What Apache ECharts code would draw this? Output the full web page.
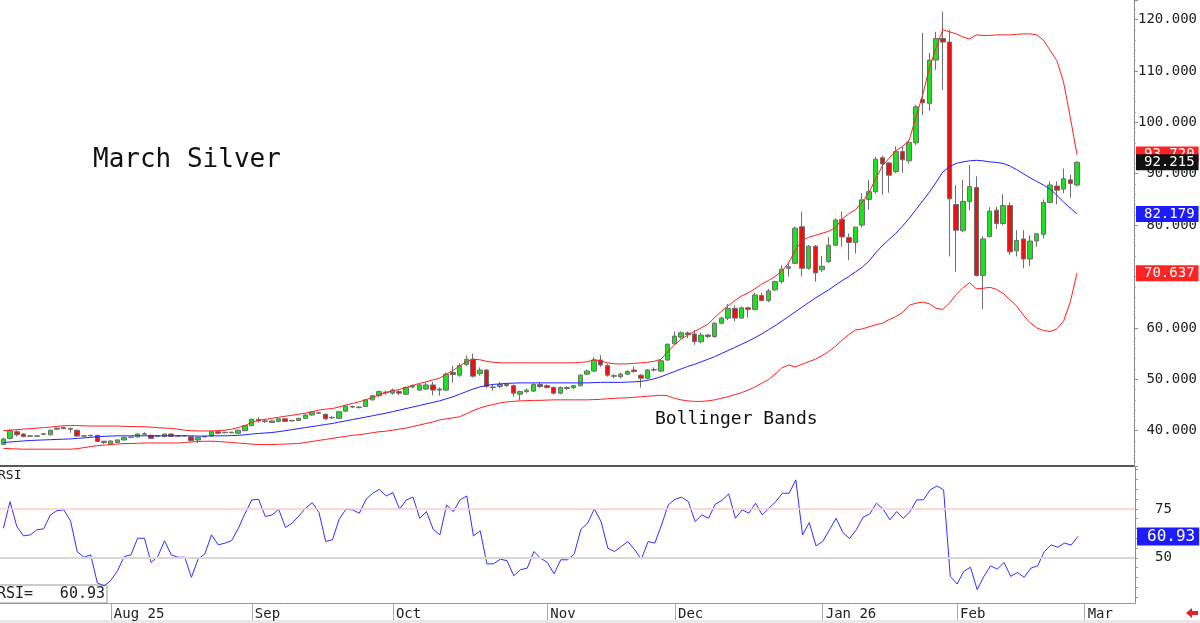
<!DOCTYPE html>
<html>
<head>
<meta charset="utf-8">
<title>March Silver</title>
<script src="https://cdn.jsdelivr.net/npm/echarts@6/dist/echarts.min.js"></script>
<style>
  html, body { margin: 0; padding: 0; background: #fff; }
  #chart { width: 1200px; height: 623px; }
</style>
</head>
<body>
<div id="chart"></div>
<script>
"use strict";

// trading days from 2025-07-10, plus a few empty March slots on the right
var firstDay = [2025, 6, 10];
var padSlots = 8;
var holidays = ['2025-09-01', '2025-11-27', '2025-12-25', '2026-01-01', '2026-01-19', '2026-02-16'];
var monthLabels = {
  '2025-08': 'Aug 25', '2025-09': 'Sep', '2025-10': 'Oct', '2025-11': 'Nov',
  '2025-12': 'Dec', '2026-01': 'Jan 26', '2026-02': 'Feb', '2026-03': 'Mar'
};

// Jul .. Feb, one value per session
var opens = [
  37.35, 38.5, 39.8, 39.35, 38.9, 38.9, 39.4, 39.2, 40.3, 40.6, 40.45, 40.1, 39.0, 39.0, 39.1, 37.95,
  37.4, 37.7, 38.2, 38.7, 38.8, 39.4, 39.1, 38.9, 38.85, 39.35, 38.95, 39.0, 38.8, 38.2, 38.8, 38.95, 39.8, 39.6, 39.7, 39.5, 40.0,
  40.97, 42.2, 41.9, 41.6, 41.8, 42.3, 41.9, 42.0, 42.4, 43.05, 43.5, 43.2, 42.5, 42.4, 43.8, 44.7, 44.6, 44.7, 46.0, 46.8, 47.5,
  47.3, 47.6, 47.1, 48.5, 47.9, 48.1, 48.9, 48.1, 47.9, 51.3, 50.8, 52.9, 53.9, 51.1, 51.8, 48.4, 48.6, 49.0, 48.75, 47.1, 47.6, 47.7, 49.0,
  48.75, 48.4, 47.3, 48.4, 48.4, 48.75, 51.0, 51.6, 53.75, 52.65, 50.7, 50.5, 51.0, 51.8, 50.8, 50.2, 51.8, 51.6, 53.75,
  56.9, 58.2, 59.0, 58.8, 57.3, 58.6, 58.3, 60.9, 61.9, 63.8, 61.9, 63.9, 63.6, 66.3, 65.3, 67.4, 69.0, 71.6, 72.56, 79.7, 71.6, 75.9,
  71.3, 72.9, 76.1, 81.1, 77.6, 76.6, 80.0, 85.0, 86.5, 93.1, 92.1, 90.4, 94.3, 92.5, 96.0, 104.4, 103.7, 112.1, 116.3, 115.6,
  84.0, 78.9, 84.6, 87.3, 70.2, 77.75, 82.9, 80.3, 83.8, 75.0, 77.3, 73.4, 76.9, 78.2, 84.4, 87.6, 87.0, 88.8, 87.8
];
var closes = [
  38.4, 40.0, 39.2, 38.85, 39.0, 39.0, 39.3, 40.1, 40.5, 40.4, 40.3, 38.95, 38.95, 39.1, 37.9, 37.7,
  38.0, 38.2, 38.7, 38.75, 39.35, 39.3, 38.5, 39.0, 39.35, 38.9, 39.0, 39.05, 38.05, 38.7, 38.9, 39.8, 39.5, 39.7, 39.6, 40.1, 41.0,
  42.2, 41.9, 41.8, 41.9, 42.3, 41.8, 42.0, 42.4, 43.05, 43.6, 43.4, 42.3, 42.6, 43.7, 44.8, 44.6, 44.5, 46.0, 46.8, 47.6, 47.4,
  47.9, 47.3, 48.4, 48.8, 48.9, 48.9, 47.9, 47.9, 51.0, 50.9, 52.65, 53.9, 50.6, 51.8, 48.6, 48.5, 49.0, 48.8, 47.3, 47.6, 47.9, 49.0, 48.6,
  48.4, 47.3, 48.4, 48.2, 48.75, 50.8, 51.6, 53.75, 52.8, 50.8, 50.6, 51.0, 51.5, 51.5, 50.2, 51.8, 51.9, 53.6, 56.8,
  58.4, 59.05, 58.7, 57.3, 58.6, 58.3, 60.9, 61.9, 63.8, 61.9, 63.9, 63.6, 66.4, 65.3, 67.2, 69.0, 71.4, 71.9, 79.4, 71.6, 75.9, 70.7,
  72.0, 76.1, 81.0, 77.7, 76.6, 79.6, 84.9, 86.5, 92.8, 91.9, 89.7, 94.3, 92.7, 96.1, 103.0, 103.8, 112.1, 116.3, 115.6, 85.1,
  79.0, 84.6, 87.5, 70.2, 77.3, 82.7, 80.3, 83.8, 74.8, 77.0, 73.4, 76.9, 78.3, 84.4, 87.8, 86.8, 89.0, 88.1, 92.215
];
var lows = [
  37.2, 38.3, 38.9, 38.7, 38.8, 38.85, 39.2, 39.1, 40.2, 40.3, 39.6, 38.8, 38.85, 38.9, 37.8, 37.4,
  37.3, 37.6, 38.1, 38.6, 38.7, 39.2, 38.4, 38.8, 38.75, 38.8, 38.85, 38.9, 37.95, 37.6, 38.7, 38.85, 39.4, 39.5, 39.5, 39.4, 39.9,
  40.9, 41.6, 41.5, 41.5, 41.7, 41.7, 41.8, 41.9, 42.3, 42.9, 43.2, 42.1, 42.3, 42.3, 43.7, 44.4, 44.3, 44.6, 45.9, 46.5, 47.0,
  47.0, 46.9, 46.9, 48.3, 47.7, 47.9, 46.9, 46.8, 47.7, 49.3, 50.5, 52.6, 50.3, 50.7, 48.3, 47.8, 48.3, 48.5, 46.6, 45.9, 47.3, 47.5, 48.3,
  48.2, 47.0, 47.1, 47.9, 48.1, 48.6, 50.8, 51.4, 52.4, 50.5, 50.2, 50.2, 50.8, 51.3, 48.4, 50.0, 51.5, 51.4, 53.6,
  56.7, 57.9, 58.0, 56.7, 57.0, 58.0, 58.1, 60.7, 61.5, 61.3, 61.8, 62.0, 63.4, 65.2, 65.0, 67.2, 68.6, 70.0, 72.4, 70.0, 71.3, 69.0,
  70.9, 72.6, 75.9, 75.8, 73.2, 74.5, 79.5, 83.0, 86.1, 85.9, 86.3, 90.1, 90.2, 92.0, 95.6, 101.4, 102.2, 110.2, 106.3, 73.9,
  70.9, 78.7, 82.9, 70.0, 63.7, 77.6, 79.3, 80.0, 74.2, 73.9, 71.6, 72.0, 75.8, 77.4, 84.2, 84.0, 86.2, 85.3, 87.5
];
var highs = [
  38.6, 40.3, 40.1, 39.5, 39.1, 39.1, 39.5, 40.2, 40.6, 40.8, 40.6, 40.2, 39.1, 39.2, 39.2, 38.0,
  38.1, 38.3, 38.8, 38.85, 39.45, 39.7, 39.2, 39.1, 39.45, 39.5, 39.1, 39.15, 38.9, 38.8, 39.0, 39.9, 40.0, 39.8, 39.8, 40.2, 41.1,
  42.4, 42.6, 42.1, 42.0, 42.4, 42.4, 42.1, 42.5, 43.2, 43.7, 43.7, 43.3, 42.8, 43.8, 44.9, 44.9, 44.8, 46.1, 47.0, 47.8, 47.8,
  48.2, 47.9, 48.6, 49.0, 49.1, 49.3, 49.5, 48.4, 51.3, 52.6, 53.1, 54.6, 55.0, 52.3, 52.0, 49.0, 49.5, 49.3, 49.0, 47.8, 48.2, 49.3, 49.4,
  49.0, 48.6, 48.6, 48.6, 48.9, 51.0, 51.9, 54.3, 54.7, 53.0, 51.0, 51.3, 51.8, 52.5, 51.0, 52.0, 52.3, 53.9, 57.0,
  59.3, 59.3, 59.3, 59.6, 59.0, 58.8, 61.1, 62.2, 64.6, 64.4, 64.2, 64.1, 66.8, 66.8, 67.6, 69.2, 72.2, 72.6, 79.7, 82.6, 76.1, 76.1,
  74.0, 77.7, 81.3, 82.6, 78.4, 79.7, 86.2, 88.8, 93.3, 93.5, 92.3, 95.3, 95.3, 96.6, 103.4, 117.4, 113.5, 117.6, 121.5, 118.0,
  87.8, 88.8, 91.7, 89.5, 77.8, 83.5, 83.6, 86.0, 84.4, 79.0, 79.0, 78.0, 78.4, 85.0, 88.5, 88.5, 91.0, 89.8, 92.4
];

// Bollinger bands
var upperBand = [
  40.0, 40.1, 40.2, 40.3, 40.4, 40.5, 40.6, 40.7, 40.85, 40.95, 41.0, 41.0, 40.95, 40.9, 40.9, 40.9,
  40.9, 40.9, 40.85, 40.8, 40.8, 40.75, 40.7, 40.6, 40.5, 40.45, 40.3, 40.1, 40.0, 39.95, 39.95, 39.95, 40.0, 40.1, 40.3, 40.6, 41.0,
  41.6, 42.0, 42.2, 42.4, 42.6, 42.8, 43.0, 43.2, 43.4, 43.7, 44.0, 44.2, 44.3, 44.6, 45.0, 45.3, 45.6, 46.0, 46.5, 47.0, 47.4,
  47.8, 48.0, 48.4, 48.8, 49.2, 49.5, 49.9, 50.2, 51.0, 51.7, 52.6, 53.4, 53.9, 53.8, 53.5, 53.3, 53.2, 53.2, 53.2, 53.2, 53.2, 53.2, 53.2,
  53.2, 53.2, 53.2, 53.2, 53.2, 53.3, 53.4, 53.8, 53.6, 53.2, 53.0, 53.0, 53.0, 53.1, 53.2, 53.3, 53.5, 53.9, 55.3,
  56.7, 57.8, 58.6, 59.3, 60.0, 60.7, 62.0, 63.2, 64.3, 65.3, 66.2, 66.8, 67.6, 68.5, 69.2, 70.0, 71.0, 72.6, 75.0, 77.0, 77.6, 78.0,
  78.4, 78.8, 79.5, 81.2, 82.2, 83.0, 84.5, 86.3, 89.0, 91.5, 93.0, 94.5, 95.3, 96.5, 101.0, 105.3, 110.5, 114.5, 118.0, 117.6,
  117.2, 116.6, 116.2, 117.0, 116.9, 116.9, 117.0, 117.0, 117.0, 117.1, 117.2, 117.2, 117.0, 116.0, 114.0, 112.0, 107.8, 101.0, 93.72
];
var middleBand = [
  37.7, 37.8, 37.9, 38.0, 38.1, 38.15, 38.2, 38.25, 38.3, 38.35, 38.4, 38.5, 38.6, 38.7, 38.85, 38.9,
  38.95, 39.0, 39.0, 39.0, 39.0, 39.0, 39.0, 39.0, 39.0, 39.0, 39.0, 39.0, 39.0, 38.95, 38.95, 39.0, 39.0, 39.0, 39.05, 39.1, 39.2,
  39.35, 39.45, 39.55, 39.65, 39.8, 40.0, 40.2, 40.4, 40.6, 40.8, 41.0, 41.2, 41.4, 41.65, 41.9, 42.15, 42.4, 42.65, 42.9, 43.15, 43.4,
  43.7, 44.0, 44.3, 44.6, 44.9, 45.2, 45.5, 45.8, 46.2, 46.6, 47.1, 47.6, 48.1, 48.5, 48.8, 49.0, 49.1, 49.2, 49.25, 49.3, 49.3, 49.3, 49.3,
  49.3, 49.3, 49.3, 49.3, 49.3, 49.3, 49.3, 49.35, 49.4, 49.4, 49.4, 49.4, 49.45, 49.5, 49.6, 49.8, 50.1, 50.5, 51.0,
  51.5, 52.0, 52.5, 52.9, 53.4, 53.9, 54.4, 55.0, 55.6, 56.2, 56.8, 57.4, 58.1, 58.8, 59.6, 60.4, 61.3, 62.2, 63.1, 64.0, 64.9, 65.8,
  66.6, 67.4, 68.3, 69.2, 70.0, 70.9, 71.8, 73.0, 74.6, 76.0, 77.2, 78.4, 79.8, 81.3, 83.0, 84.7, 86.4, 88.3, 90.3, 91.4,
  92.0, 92.3, 92.5, 92.6, 92.5, 92.3, 92.2, 92.0, 91.5, 90.8, 90.0, 89.2, 88.5, 87.8, 87.0, 85.8, 84.5, 83.3, 82.179
];
var lowerBand = [
  36.55, 36.5, 36.45, 36.4, 36.4, 36.4, 36.4, 36.4, 36.4, 36.4, 36.4, 36.5, 36.7, 36.9, 37.1, 37.2,
  37.3, 37.4, 37.5, 37.5, 37.55, 37.6, 37.6, 37.6, 37.6, 37.6, 37.6, 37.7, 37.8, 37.9, 37.95, 37.95, 37.9, 37.8, 37.7, 37.6, 37.5,
  37.4, 37.3, 37.3, 37.3, 37.35, 37.4, 37.45, 37.5, 37.7, 37.9, 38.1, 38.3, 38.5, 38.7, 38.9, 39.1, 39.2, 39.4, 39.6, 39.8, 39.9,
  40.1, 40.3, 40.5, 40.8, 41.1, 41.4, 41.7, 42.1, 42.3, 42.5, 42.7, 43.3, 43.9, 44.4, 44.8, 45.1, 45.4, 45.6, 45.7, 45.8, 45.85, 45.9, 45.9,
  45.95, 46.0, 46.0, 46.0, 46.0, 46.0, 46.0, 46.05, 46.1, 46.2, 46.3, 46.35, 46.4, 46.5, 46.6, 46.7, 46.8, 46.9, 46.8,
  46.3, 46.0, 45.8, 45.7, 45.7, 45.8, 46.0, 46.3, 46.6, 47.0, 47.4, 47.9, 48.5, 49.2, 49.9, 51.0, 52.2, 52.8, 52.4, 52.9, 53.4, 53.9,
  54.6, 55.4, 56.4, 57.6, 58.7, 59.6, 59.8, 60.2, 60.6, 60.9, 61.6, 62.2, 63.0, 64.4, 64.8, 65.0, 64.7, 63.8, 63.6, 64.8,
  66.5, 67.8, 68.8, 67.6, 67.7, 67.9, 67.5, 66.7, 65.5, 64.3, 62.5, 61.0, 60.0, 59.5, 59.3, 59.8, 61.3, 65.0, 70.637
];
var rsi = [
  65.1, 78.7, 66.0, 61.2, 61.7, 64.3, 64.8, 71.9, 74.1, 74.5, 68.9, 53.2, 50.3, 51.5, 37.1, 35.7,
  38.4, 43.4, 50.7, 51.5, 60.0, 60.0, 47.6, 50.7, 58.7, 51.5, 50.3, 50.3, 40.0, 49.3, 52.0, 61.7, 56.6, 57.5, 58.8, 65.1, 72.8,
  79.6, 79.9, 71.1, 71.9, 74.8, 65.5, 67.7, 71.4, 75.3, 78.2, 73.1, 58.3, 59.2, 69.7, 74.8, 74.5, 72.8, 79.9, 83.0, 85.0, 81.6,
  83.3, 74.8, 79.6, 81.0, 70.2, 73.6, 64.6, 61.7, 77.0, 73.6, 79.6, 81.6, 61.2, 63.8, 46.9, 46.9, 49.3, 48.5, 40.8, 43.9, 44.7, 53.2, 49.8,
  47.6, 41.8, 49.0, 49.0, 51.9, 64.6, 67.7, 75.0, 68.5, 54.9, 53.2, 55.8, 58.3, 54.1, 49.3, 58.3, 57.5, 66.8, 77.0,
  79.9, 81.0, 78.7, 68.5, 71.9, 70.2, 77.4, 79.3, 82.7, 70.2, 74.5, 72.8, 77.9, 71.9, 75.3, 78.7, 83.0, 83.0, 89.8, 61.7, 68.0, 56.1,
  58.3, 64.3, 70.2, 62.9, 59.9, 64.3, 70.7, 72.4, 77.9, 74.8, 69.4, 73.6, 70.2, 73.6, 79.6, 79.6, 84.7, 86.7, 84.7, 40.5,
  36.6, 43.0, 45.2, 33.7, 40.5, 45.9, 44.2, 47.6, 40.5, 42.5, 40.0, 44.7, 45.9, 53.2, 56.6, 55.4, 57.5, 56.5, 60.93
];

var mono = "'DejaVu Sans Mono', monospace";

function buildDays(count) {
  var out = [];
  var d = new Date(Date.UTC(firstDay[0], firstDay[1], firstDay[2]));
  while (out.length < count) {
    var wd = d.getUTCDay(), s = d.toISOString().slice(0, 10);
    if (wd !== 0 && wd !== 6 && holidays.indexOf(s) < 0) out.push(s);
    d.setUTCDate(d.getUTCDate() + 1);
  }
  return out;
}

var days = buildDays(closes.length + padSlots);
var monthStart = days.map(function (d, i) {
  return i > 0 && d.slice(0, 7) !== days[i - 1].slice(0, 7) && !!monthLabels[d.slice(0, 7)];
});
function isMonthStart(index) { return monthStart[index]; }

var candles = opens.map(function (o, i) {
  return [o, closes[i], lows[i], highs[i]];
});

function last(arr) { return arr[arr.length - 1]; }

// value tag on the right axis (invisible line, visible label)
function badge(value, bg, digits, size, padLeft) {
  return {
    yAxis: value,
    lineStyle: { color: 'rgba(255,255,255,0)', width: 1, opacity: 1 },
    label: {
      show: true,
      position: 'end',
      distance: 2,
      formatter: value.toFixed(digits),
      color: '#fff',
      opacity: 1,
      backgroundColor: bg,
      fontFamily: mono,
      fontSize: size,
      lineHeight: size + 1,
      padding: [1, 4, 0, padLeft]
    }
  };
}

function bandSeries(data, color, tagColor) {
  return {
    type: 'line',
    xAxisIndex: 0,
    yAxisIndex: 0,
    data: data,
    symbol: 'none',
    lineStyle: { color: color, width: 1 },
    markLine: { silent: true, symbol: 'none', animation: false, data: [badge(last(data), tagColor, 3, 14, 8)] }
  };
}

var chart = echarts.init(document.getElementById('chart'));

chart.setOption({
  animation: false,
  backgroundColor: '#fff',
  grid: [
    { left: -1, right: 65, top: 0, height: 466 },
    { left: -1, right: 65, top: 467, height: 136 }
  ],
  xAxis: [
    { type: 'category', gridIndex: 0, data: days, show: false },
    {
      type: 'category',
      gridIndex: 1,
      data: days,
      axisLine: { lineStyle: { color: '#999', width: 1 } },
      axisTick: {
        show: true,
        alignWithLabel: true,
        interval: isMonthStart,
        length: 17,
        lineStyle: { color: '#aaa' }
      },
      axisLabel: {
        interval: isMonthStart,
        formatter: function (value) { return monthLabels[value.slice(0, 7)] || ''; },
        align: 'left',
        margin: 4,
        padding: [0, 0, 0, 3],
        color: '#222',
        fontFamily: mono,
        fontSize: 14
      }
    }
  ],
  yAxis: [
    {
      type: 'value',
      gridIndex: 0,
      position: 'right',
      min: 33.13,
      max: 123.79,
      splitNumber: 9,
      splitLine: { show: false },
      axisLine: { show: true, lineStyle: { color: '#888' } },
      axisTick: { show: true, length: 4, lineStyle: { color: '#888' } },
      minorTick: { show: true, splitNumber: 5, length: 2, lineStyle: { color: '#aaa' } },
      axisLabel: {
        showMinLabel: false,
        showMaxLabel: false,
        align: 'right',
        margin: 63,
        color: '#222',
        fontFamily: mono,
        fontSize: 14,
        formatter: function (v) {
          return Math.abs(v - Math.round(v / 10) * 10) < 1e-6 ? v.toFixed(3) : '';
        }
      }
    },
    {
      type: 'value',
      gridIndex: 1,
      position: 'right',
      min: 26.9,
      max: 96.4,
      splitNumber: 14,
      splitLine: { show: false },
      axisLine: { show: true, lineStyle: { color: '#888' } },
      axisTick: { show: true, length: 3, lineStyle: { color: '#999' } },
      axisLabel: {
        showMinLabel: false,
        showMaxLabel: false,
        margin: 20,
        color: '#222',
        fontFamily: mono,
        fontSize: 14,
        formatter: function (v) {
          return (Math.abs(v - 50) < 1e-6 || Math.abs(v - 75) < 1e-6) ? String(Math.round(v)) : '';
        }
      }
    }
  ],
  series: [
    bandSeries(upperBand, '#ff2020', '#ff2424'),
    bandSeries(middleBand, '#2020ff', '#1c1cff'),
    bandSeries(lowerBand, '#ff2020', '#ff2424'),
    {
      type: 'candlestick',
      xAxisIndex: 0,
      yAxisIndex: 0,
      data: candles,
      barWidth: 5,
      itemStyle: {
        color: '#1ee01e',
        color0: '#ee1111',
        borderColor: '#6e6e6e',
        borderColor0: '#6e6e6e',
        borderWidth: 1
      },
      markLine: { silent: true, symbol: 'none', animation: false, data: [badge(last(closes), '#111', 3, 14, 8)] }
    },
    {
      type: 'line',
      xAxisIndex: 1,
      yAxisIndex: 1,
      data: rsi,
      symbol: 'none',
      lineStyle: { color: '#3030ff', width: 1 },
      markLine: {
        silent: true,
        symbol: 'none',
        animation: false,
        data: [
          { yAxis: 75, lineStyle: { color: '#ffcaca', width: 1.5, type: 'solid' }, label: { show: false } },
          { yAxis: 50, lineStyle: { color: '#d8d8d8', width: 2, type: 'solid' }, label: { show: false } },
          badge(last(rsi), '#1c1cff', 2, 16, 10)
        ]
      }
    }
  ],
  graphic: [
    { type: 'line', shape: { x1: 0, y1: 466, x2: 1135, y2: 466 }, style: { stroke: '#222', lineWidth: 1.5 } },
    { type: 'rect', shape: { x: 0, y: 620, width: 1200, height: 3 }, style: { fill: '#e8e8e8' } },
    {
      type: 'text', x: 93, y: 160,
      style: { text: 'March Silver', font: '26px ' + mono, fill: '#111', verticalAlign: 'middle' }
    },
    {
      type: 'text', x: 655, y: 419,
      style: { text: 'Bollinger Bands', font: '18px ' + mono, fill: '#111', verticalAlign: 'middle' }
    },
    {
      type: 'text', x: -2, y: 476,
      style: { text: 'RSI', font: '13px ' + mono, fill: '#222', verticalAlign: 'middle' }
    },
    {
      type: 'rect', shape: { x: -1, y: 585, width: 108, height: 18 },
      style: { fill: '#fff', stroke: '#999', lineWidth: 1 }
    },
    {
      type: 'text', x: -3, y: 594,
      style: { text: 'RSI=', font: '15px ' + mono, fill: '#222', verticalAlign: 'middle' }
    },
    {
      type: 'text', x: 105, y: 594,
      style: { text: last(rsi).toFixed(2), font: '15px ' + mono, fill: '#222', align: 'right', verticalAlign: 'middle' }
    },
    {
      type: 'polygon',
      shape: { points: [[1186, 613], [1192, 608], [1192, 611], [1198, 611], [1198, 615], [1192, 615], [1192, 618]] },
      style: { fill: '#e82020' }
    }
  ]
});
</script>
</body>
</html>
